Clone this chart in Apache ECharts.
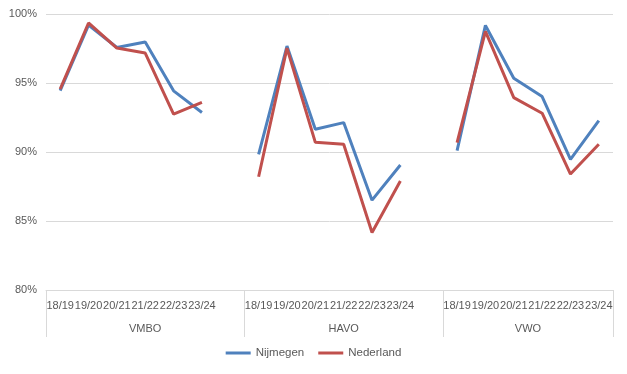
<!DOCTYPE html>
<html>
<head>
<meta charset="utf-8">
<script src="https://cdn.jsdelivr.net/npm/echarts@6/dist/echarts.min.js"></script>
<style>
html,body{margin:0;padding:0;background:#fff;}
#chart{width:627px;height:374px;}
</style>
</head>
<body>
<div id="chart"></div>
<script>
// Data
const years = ['18/19', '19/20', '20/21', '21/22', '22/23', '23/24'];
const groups = ['VMBO', 'HAVO', 'VWO'];
const nijmegenVMBO = [94.45, 99.2, 97.57, 97.97, 94.43, 92.86];
const nijmegenHAVO = [89.83, 97.68, 91.65, 92.13, 86.51, 89.06];
const nijmegenVWO  = [90.1, 99.17, 95.35, 94.02, 89.47, 92.27];
const nederlandVMBO = [94.55, 99.35, 97.53, 97.17, 92.74, 93.6];
const nederlandHAVO = [88.21, 97.53, 90.7, 90.56, 84.17, 87.9];
const nederlandVWO  = [90.68, 98.74, 93.94, 92.81, 88.4, 90.56];
const yTicks = [80, 85, 90, 95, 100];

// Build category list: groups separated by an empty category
const categories = [];
years.forEach(y => categories.push(y)); categories.push('');
years.forEach(y => categories.push(y)); categories.push('');
years.forEach(y => categories.push(y));
function join(a, b, c) { return a.concat([null], b, [null], c); }
const nijmegen = join(nijmegenVMBO, nijmegenHAVO, nijmegenVWO);
const nederland = join(nederlandVMBO, nederlandHAVO, nederlandVWO);

// group label positions (in category index units) and dividers
const groupCenters = [3, 10, 16.5];
const dividers = [-0.5, 6.5, 13.5, 19.5];

const font = 'Liberation Sans';
const chart = echarts.init(document.getElementById('chart'));
chart.setOption({
  animation: false,
  textStyle: { fontFamily: font },
  grid: { left: 46, right: 14, top: 14, bottom: 84, containLabel: false },
  legend: {
    bottom: 10, left: 'center',
    icon: 'rect', itemWidth: 25, itemHeight: 3, itemGap: 14,
    textStyle: { fontFamily: font, fontSize: 11.5, color: '#595959' },
    data: ['Nijmegen', 'Nederland']
  },
  xAxis: [
    {
      type: 'category', data: categories, boundaryGap: true,
      axisLine: { lineStyle: { color: '#d9d9d9', width: 1 } },
      axisTick: { show: false },
      axisLabel: { interval: 0, margin: 10, fontSize: 11, color: '#595959', fontFamily: font }
    },
    {
      type: 'value', min: -0.5, max: 19.5, position: 'bottom',
      axisLine: { show: false },
      splitLine: { show: false },
      axisTick: { show: true, customValues: dividers, length: 47, lineStyle: { color: '#d9d9d9', width: 1 } },
      axisLabel: {
        customValues: groupCenters, margin: 33, fontSize: 11, color: '#595959', fontFamily: font,
        formatter: function (v) { const i = groupCenters.indexOf(v); return i >= 0 ? groups[i] : ''; }
      }
    }
  ],
  yAxis: {
    type: 'value', min: yTicks[0], max: yTicks[yTicks.length - 1], interval: 5,
    axisLine: { show: false }, axisTick: { show: false },
    splitLine: { lineStyle: { color: '#d9d9d9', width: 1 } },
    axisLabel: { formatter: '{value}%', fontSize: 11, color: '#595959', margin: 9, fontFamily: font }
  },
  series: [
    {
      name: 'Nijmegen', type: 'line', data: nijmegen, xAxisIndex: 0,
      symbol: 'none', connectNulls: false,
      lineStyle: { color: '#4f81bd', width: 3 }, itemStyle: { color: '#4f81bd' }
    },
    {
      name: 'Nederland', type: 'line', data: nederland, xAxisIndex: 0,
      symbol: 'none', connectNulls: false,
      lineStyle: { color: '#c0504d', width: 3 }, itemStyle: { color: '#c0504d' }
    }
  ]
});
</script>
</body>
</html>
